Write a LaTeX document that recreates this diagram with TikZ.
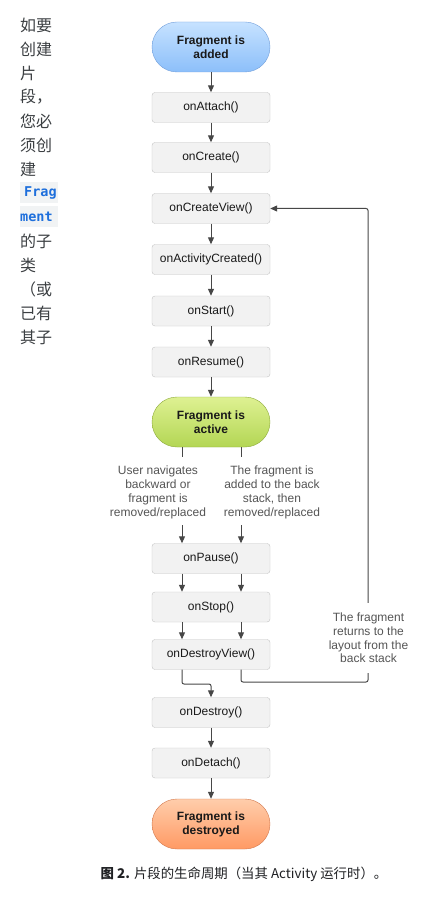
\documentclass[tikz,border=0pt]{standalone}
\usepackage{fontspec}
\setmainfont{Liberation Sans}
\newfontfamily\cjk{Noto Sans CJK SC}
\newfontfamily\codefont{DejaVu Sans Mono}
\usetikzlibrary{arrows.meta}
\definecolor{boxfill}{HTML}{F2F2F2}
\definecolor{boxdraw}{HTML}{C4C4C4}
\definecolor{linec}{HTML}{474747}
\definecolor{bluetop}{HTML}{C6E2FF}
\definecolor{bluebot}{HTML}{8CBFFA}
\definecolor{bluedraw}{HTML}{729FDB}
\definecolor{greentop}{HTML}{DEF192}
\definecolor{greenbot}{HTML}{B3D654}
\definecolor{greendraw}{HTML}{8DAA3B}
\definecolor{orangetop}{HTML}{FFCDAB}
\definecolor{orangebot}{HTML}{FF9A64}
\definecolor{orangedraw}{HTML}{D2784C}
\definecolor{labelc}{HTML}{555555}
\definecolor{codebg}{HTML}{F1F3F4}
\definecolor{codefg}{HTML}{1E6FDC}
\definecolor{sidetext}{HTML}{3C4043}
\definecolor{captext}{HTML}{202124}
\tikzset{
  box/.style={draw=boxdraw, fill=boxfill, rounded corners=3pt, minimum width=118pt,
    minimum height=30pt, inner sep=0pt, font=\fontsize{12}{14}\selectfont, text=black!90},
  pill/.style={rounded corners=25pt, minimum width=118pt, minimum height=50pt, inner sep=0pt,
    align=center, font=\fontsize{12}{14}\selectfont\bfseries, text=black!90},
  added/.style={pill, draw=bluedraw, top color=bluetop, bottom color=bluebot},
  activep/.style={pill, draw=greendraw, top color=greentop, bottom color=greenbot},
  destroyedp/.style={pill, draw=orangedraw, top color=orangetop, bottom color=orangebot},
  flow/.style={draw=linec, line width=1pt, -{Triangle[width=6pt,length=7pt]}},
  plain/.style={draw=linec, line width=1pt},
  lbl/.style={align=center, text=labelc, font=\fontsize{12}{13.8}\selectfont, inner sep=0pt},
  side/.style={anchor=west, inner sep=0pt, text=sidetext, font=\cjk\fontsize{16}{24}\selectfont},
  code/.style={anchor=west, inner sep=0pt, text=codefg, font=\codefont\bfseries\fontsize{13.5}{16}\selectfont},
}
\begin{document}
\begin{tikzpicture}[x=1pt,y=-1pt]
\useasboundingbox (0,0) rectangle (424,901);
\fill[white] (0,0) rectangle (424,901);

% side text column
\node[side] (s1) at (20,25) {如要};
\node[side] (s2) at (20,49) {创建};
\node[side] (s3) at (20,73) {片};
\node[side] (s4) at (20,97) {段，};
\node[side] (s5) at (20,121) {您必};
\node[side] (s6) at (20,145) {须创};
\node[side] (s7) at (20,169) {建};
\fill[codebg] (20,182) rectangle (58,203);
\fill[codebg] (20,206) rectangle (58,227);
\node[code] (c1) at (24,193) {Frag};
\node[code] (c2) at (20,217) {ment};
\node[side] (s8) at (20,241) {的子};
\node[side] (s9) at (20,265) {类};
\node[side] (s10) at (20,289) {（或};
\node[side] (s11) at (20,313) {已有};
\node[side] (s12) at (20,337) {其子};

% main flow
\node[added] (add) at (211,47) {Fragment is\\added};
\node[box] (attach) at (211,107.5) {onAttach()};
\node[box] (create) at (211,157.5) {onCreate()};
\node[box] (cview) at (211,208.5) {onCreateView()};
\node[box] (actc) at (211,259.5) {onActivityCreated()};
\node[box] (start) at (211,311) {onStart()};
\node[box] (resume) at (211,362) {onResume()};
\node[activep] (active) at (211,422) {Fragment is\\active};
\node[box] (pause) at (211,558.5) {onPause()};
\node[box] (stop) at (211,607) {onStop()};
\node[box] (dview) at (211,654.5) {onDestroyView()};
\node[box] (destroy) at (211,712.5) {onDestroy()};
\node[box] (detach) at (211,763) {onDetach()};
\node[destroyedp] (destroyed) at (211,824) {Fragment is\\destroyed};

\draw[flow] (add) -- (attach);
\draw[flow] (attach) -- (create);
\draw[flow] (create) -- (cview);
\draw[flow] (cview) -- (actc);
\draw[flow] (actc) -- (start);
\draw[flow] (start) -- (resume);
\draw[flow] (resume) -- (active);
\draw[flow] (destroy) -- (detach);
\draw[flow] (detach) -- (destroyed);

% branch labels
\node[lbl] (lab1) at (158,492.5) {User navigates\\backward or\\fragment is\\removed/replaced};
\node[lbl] (lab2) at (272,492.5) {The fragment is\\added to the back\\stack, then\\removed/replaced};
\coordinate (l1t) at (182,457);
\coordinate (l1b) at (182,525);
\coordinate (l2t) at (241,457);
\coordinate (l2b) at (241,525);
\draw[plain] (active.south -| l1t) -- (l1t);
\draw[plain] (active.south -| l2t) -- (l2t);
\draw[flow] (l1b) -- (pause.north -| l1b);
\draw[flow] (l2b) -- (pause.north -| l2b);
\draw[flow] (pause.south -| l1b) -- (stop.north -| l1b);
\draw[flow] (pause.south -| l2b) -- (stop.north -| l2b);
\draw[flow] (stop.south -| l1b) -- (dview.north -| l1b);
\draw[flow] (stop.south -| l2b) -- (dview.north -| l2b);

% down to onDestroy
\coordinate (d1) at (182,684);
\coordinate (d2) at (211,684);
\draw[flow, rounded corners=2pt] (dview.south -| d1) -- (d1) -- (d2) -- (destroy.north);

% return loop
\node[lbl, minimum height=70pt] (ret) at (368.5,638) {The fragment\\returns to the\\layout from the\\back stack};
\coordinate (r1) at (241,682);
\coordinate (r2) at (368,682);
\coordinate (r3) at (368,208.5);
\draw[plain, rounded corners=2pt] (dview.south -| r1) -- (r1) -- (r2) -- (ret.south -| r2);
\draw[flow, rounded corners=2pt] (ret.north -| r2) -- (r3) -- (cview.east);

% caption
\node[inner sep=0pt, text=captext, font=\cjk\fontsize{13.4}{15}\selectfont] (cap) at (244,874)
  {\bfseries 图 2.\mdseries{} 片段的生命周期（当其 Activity 运行时）。};
\end{tikzpicture}
\end{document}
